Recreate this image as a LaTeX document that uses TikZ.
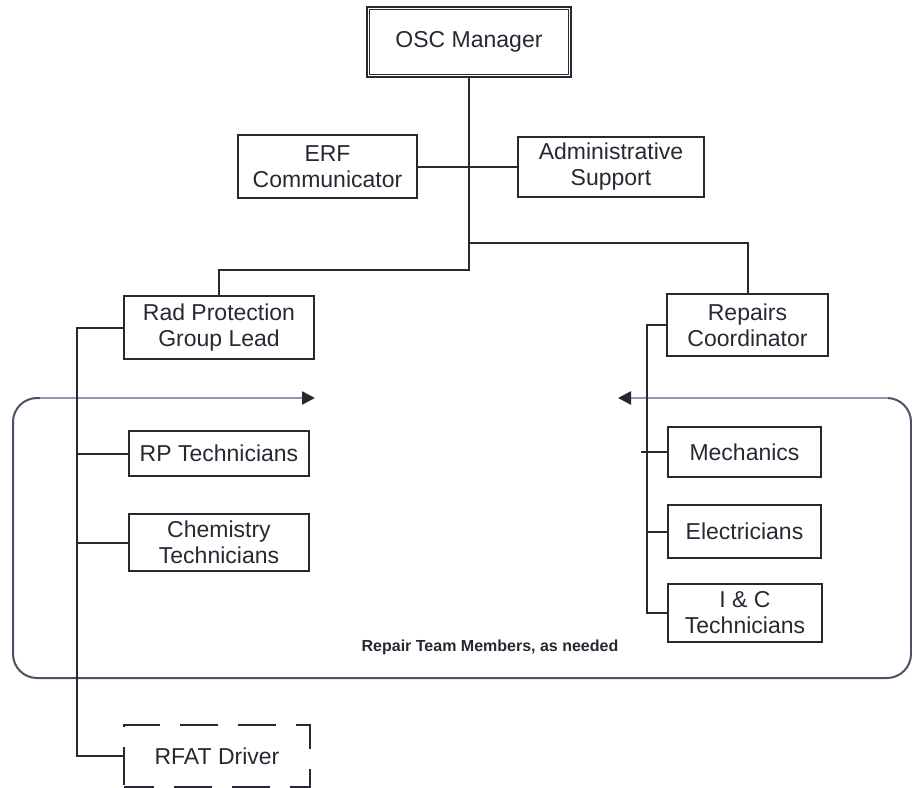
\documentclass[tikz,border=0pt]{standalone}
\usepackage{fontspec}
\setmainfont{Liberation Sans}
\usetikzlibrary{arrows.meta}
\definecolor{ink}{RGB}{40,40,50}
\definecolor{rim}{RGB}{80,80,100}
\definecolor{arrowline}{RGB}{150,150,170}
\begin{document}
\begin{tikzpicture}[x=0.5pt,y=-0.5pt,
  box/.style={draw=ink, line width=1pt, align=center, inner sep=0pt,
    font=\fontsize{11.5}{13}\selectfont, text=ink},
  conn/.style={draw=ink, line width=1pt},
  teamarrow/.style={draw=arrowline, line width=1.2pt,
    -{Triangle[length=6.5pt,width=6.5pt,color=ink]}}
]
\useasboundingbox (0,0) rectangle (912,788);

% team frame
\coordinate (fl) at (40,398);
\coordinate (fr) at (888,398);
\coordinate (tl) at (315,398);
\coordinate (tr) at (618,398);
\draw[rim, line width=1pt, rounded corners=12pt]
  (fl) -- (13,398) -- (13,678) -- (911,678) -- (911,398) -- (fr);
\draw[teamarrow] (fl) -- (tl);
\draw[teamarrow] (fr) -- (tr);

% nodes
\node[box, line width=1.3pt, minimum width=102pt, minimum height=35pt] (osc) at (469,42) {OSC Manager};
\draw[ink, line width=0.6pt] ([shift={(4,4)}]osc.north west) rectangle ([shift={(-4,-4)}]osc.south east);
\node[box, minimum width=89.5pt, minimum height=31.5pt] (erf) at (327.5,166.5) {ERF\\Communicator};
\node[box, minimum width=93pt, minimum height=30pt] (adm) at (611,167) {Administrative\\Support};
\node[box, minimum width=95pt, minimum height=31.5pt] (rad) at (219,327.5) {Rad Protection\\Group Lead};
\node[box, minimum width=80.5pt, minimum height=31pt] (rep) at (747.5,325) {Repairs\\Coordinator};
\node[box, minimum width=90pt, minimum height=22.5pt] (rpt) at (219,453.5) {RP Technicians};
\node[box, minimum width=90pt, minimum height=28.5pt] (chem) at (219,542.5) {Chemistry\\Technicians};
\node[box, minimum width=76.5pt, minimum height=25pt] (mech) at (744.5,452) {Mechanics};
\node[box, minimum width=76.5pt, minimum height=26.5pt] (elec) at (744.5,531.5) {Electricians};
\node[box, minimum width=77pt, minimum height=29pt] (ic) at (745,613) {I \& C\\Technicians};
\node[box, dash pattern=on 19pt off 10pt, dash phase=4pt, minimum width=93pt, minimum height=31pt] (rfat) at (217,756) {RFAT Driver};
\node[font=\bfseries\fontsize{8}{9}\selectfont, text=ink] (lbl) at (490,647) {Repair Team Members, as needed};

% connectors
\coordinate (j1) at (470,243);
\coordinate (j2) at (470,270);
\draw[conn] (osc.south) -- (osc.south |- j2) -| (rad.north);
\draw[conn] (osc.south |- j1) -| (rep.north);
\draw[conn] (erf.east) -- (erf.east -| adm.west);

\coordinate (lv) at (77,328);
\draw[conn] (rad.west) -| (lv |- rfat.west) -- (rfat.west);
\draw[conn] (lv |- rpt.west) -- (rpt.west);
\draw[conn] (lv |- chem.west) -- (chem.west);

\coordinate (rv) at (647,325);
\coordinate (ms) at (641,452);
\draw[conn] (rep.west) -| (rv |- ic.west) -- (ic.west);
\draw[conn] (ms) -- (mech.west);
\draw[conn] (rv |- elec.west) -- (elec.west);
\end{tikzpicture}
\end{document}
